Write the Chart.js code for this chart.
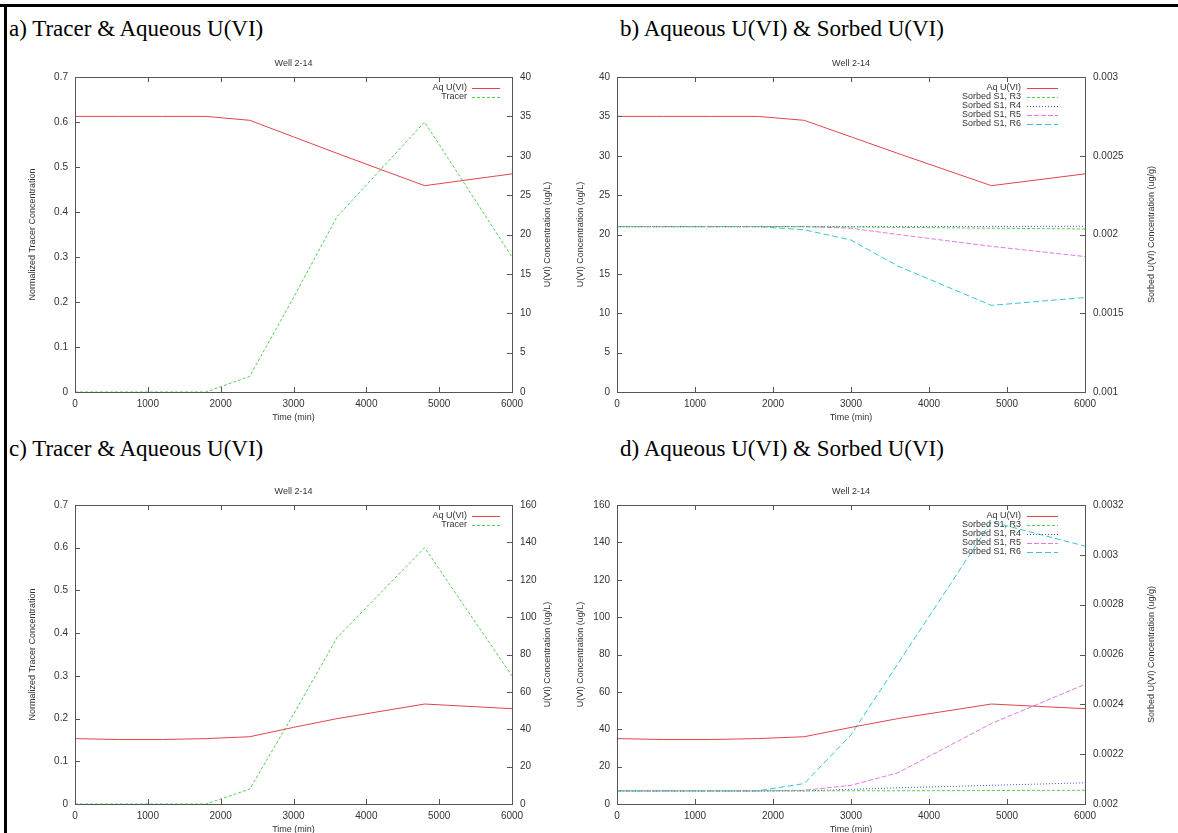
<!DOCTYPE html>
<html>
<head>
<meta charset="utf-8">
<script src="https://cdn.jsdelivr.net/npm/chart.js@4.4.0/dist/chart.umd.min.js"></script>
<style>
html, body { margin: 0; padding: 0; background: #fff; width: 1178px; height: 833px; overflow: hidden; }
body { position: relative; }
.rule { position: absolute; background: #000; }
.ptitle { position: absolute; font-family: "Liberation Serif", "Times New Roman", serif; font-size: 23px; line-height: 1; color: #000; white-space: nowrap; }
canvas { position: absolute; }
</style>
</head>
<body>
<div class="rule" style="left:0;top:4px;width:1178px;height:3px"></div>
<div class="rule" style="left:4px;top:4px;width:3px;height:829px"></div>

<div class="ptitle" style="left:9px;top:17px">a) Tracer &amp; Aqueous U(VI)</div>
<div class="ptitle" style="left:620px;top:17px">b) Aqueous U(VI) &amp; Sorbed U(VI)</div>
<div class="ptitle" style="left:9px;top:437px">c) Tracer &amp; Aqueous U(VI)</div>
<div class="ptitle" style="left:620px;top:437px">d) Aqueous U(VI) &amp; Sorbed U(VI)</div>

<canvas id="chartA" width="590" height="395" style="left:0;top:40px"></canvas>
<canvas id="chartB" width="618" height="395" style="left:560px;top:40px"></canvas>
<canvas id="chartC" width="590" height="395" style="left:0;top:468px"></canvas>
<canvas id="chartD" width="618" height="395" style="left:560px;top:468px"></canvas>

<script>
// sample times (min)
const times = [0, 600, 1200, 1800, 2400, 3000, 3600, 4800, 6000];

// tracer (same in a and c)
const tracer = [0, 0, 0, 0, 0.035, 0.21, 0.39, 0.6, 0.3];

// top row: aqueous U(VI) ug/L and sorbed U(VI) ug/g
const aqTop = [35, 35, 35, 35, 34.5, 32.4, 30.3, 26.2, 27.7];
const sorbR3Top = [0.00205, 0.00205, 0.00205, 0.00205, 0.00205, 0.002048, 0.002045, 0.00204, 0.002035];
const sorbR4Top = [0.00205, 0.00205, 0.00205, 0.00205, 0.00205, 0.00205, 0.00205, 0.002051, 0.002052];
const sorbR5Top = [0.00205, 0.00205, 0.00205, 0.00205, 0.00205, 0.00204, 0.002, 0.001925, 0.00186];
const sorbR6Top = [0.00205, 0.00205, 0.00205, 0.00205, 0.00203, 0.001965, 0.0018, 0.00155, 0.0016];

// bottom row
const aqBottom = [35, 34.5, 34.5, 35, 36, 41, 45.7, 53.5, 51];
const sorbR3Bottom = [0.0020525, 0.0020525, 0.0020525, 0.0020525, 0.0020525, 0.002053, 0.002053, 0.002054, 0.002055];
const sorbR4Bottom = [0.0020525, 0.0020525, 0.0020525, 0.0020525, 0.0020525, 0.002059, 0.002065, 0.002075, 0.002085];
const sorbR5Bottom = [0.0020525, 0.0020525, 0.0020525, 0.0020525, 0.002055, 0.002075, 0.002125, 0.002323, 0.00248];
const sorbR6Bottom = [0.0020525, 0.0020525, 0.0020525, 0.0020525, 0.002082, 0.0022775, 0.0025625, 0.0031325, 0.003035];

// tick labels
const timeTicks = [0, 1000, 2000, 3000, 4000, 5000, 6000];
const tracerTicks = [0, 0.1, 0.2, 0.3, 0.4, 0.5, 0.6, 0.7];
const aqTicksTop = [0, 5, 10, 15, 20, 25, 30, 35, 40];
const sorbTicksTop = [0.001, 0.0015, 0.002, 0.0025, 0.003];
const aqTicksBottom = [0, 20, 40, 60, 80, 100, 120, 140, 160];
const sorbTicksBottom = [0.002, 0.0022, 0.0024, 0.0026, 0.0028, 0.003, 0.0032];

const RED = '#e2454d';
const GREEN = '#52d052';
const BLUE = '#4c4ccc';
const MAGENTA = '#e07ce0';
const CYAN = '#36c6d6';

const FONT = '"Liberation Sans", Arial, sans-serif';
const TXT = '#333';

const framePlugin = {
    id: 'frame',
    afterDatasetsDraw(chart, args, opts) {
        const { ctx, chartArea: a, scales } = chart;
        ctx.save();
        ctx.strokeStyle = '#555';
        ctx.lineWidth = 1;
        ctx.strokeRect(Math.round(a.left) + 0.5, Math.round(a.top) + 0.5, Math.round(a.width), Math.round(a.height));
        ctx.beginPath();
        scales.x.ticks.forEach(t => {
            const px = Math.round(scales.x.getPixelForValue(t.value)) + 0.5;
            ctx.moveTo(px, a.bottom); ctx.lineTo(px, a.bottom - 5);
            ctx.moveTo(px, a.top); ctx.lineTo(px, a.top + 5);
        });
        scales.yL.ticks.forEach(t => {
            const py = Math.round(scales.yL.getPixelForValue(t.value)) + 0.5;
            ctx.moveTo(a.left, py); ctx.lineTo(a.left + 5, py);
        });
        scales.yR.ticks.forEach(t => {
            const py = Math.round(scales.yR.getPixelForValue(t.value)) + 0.5;
            ctx.moveTo(a.right, py); ctx.lineTo(a.right - 5, py);
        });
        ctx.stroke();

        // chart title
        ctx.fillStyle = TXT;
        ctx.font = '9px ' + FONT;
        ctx.textAlign = 'center';
        ctx.textBaseline = 'middle';
        ctx.fillText('Well 2-14', (a.left + a.right) / 2, a.top - 13);

        // right axis title, reading upward like the left one
        ctx.save();
        ctx.translate(a.right + opts.rightTitleOffset, (a.top + a.bottom) / 2);
        ctx.rotate(-Math.PI / 2);
        ctx.fillText(opts.rightTitle, 0, 0);
        ctx.restore();

        // gnuplot style key
        chart.data.datasets.forEach((ds, i) => {
            const y = a.top + 11 + i * 9;
            ctx.fillStyle = TXT;
            ctx.textAlign = 'right';
            ctx.fillText(ds.label, a.right - opts.keyText, y);
            ctx.strokeStyle = ds.borderColor;
            ctx.setLineDash(ds.borderDash || []);
            ctx.beginPath();
            ctx.moveTo(a.right - opts.keyStart, Math.round(y) + 0.5);
            ctx.lineTo(a.right - opts.keyEnd, Math.round(y) + 0.5);
            ctx.stroke();
            ctx.setLineDash([]);
        });
        ctx.restore();
    }
};

function tickAxis(ticks, min, max, position, width, pad, title, titlePad) {
    return {
        type: 'linear',
        position: position,
        min: min,
        max: max,
        afterFit: s => { s.width = width; },
        afterBuildTicks: s => { s.ticks = ticks.map(v => ({ value: v })); },
        grid: { display: false, drawTicks: false },
        border: { display: false },
        ticks: {
            padding: pad,
            autoSkip: false,
            color: TXT,
            font: { family: FONT, size: 10 },
            callback: v => String(+Number(v).toPrecision(6))
        },
        title: {
            display: !!title,
            text: title || '',
            color: TXT,
            font: { family: FONT, size: 9 },
            padding: { top: titlePad, bottom: 0 }
        }
    };
}

function buildChart(id, opt) {
    const datasets = opt.series.map(s => ({
        label: s.label,
        data: times.map((t, i) => ({ x: t, y: s.values[i] })),
        yAxisID: s.axis,
        borderColor: s.color,
        borderDash: s.dash,
        borderWidth: 1,
        pointRadius: 0,
        fill: false,
        tension: 0
    }));
    return new Chart(document.getElementById(id), {
        type: 'line',
        data: { datasets },
        options: {
            responsive: false,
            animation: false,
            devicePixelRatio: 1,
            layout: { padding: { top: 37, left: 0, right: 0, bottom: 0 } },
            plugins: {
                legend: { display: false },
                tooltip: { enabled: false },
                title: { display: false },
                frame: opt.frame
            },
            scales: {
                x: {
                    type: 'linear',
                    min: 0,
                    max: 6000,
                    afterFit: s => { s.height = opt.xh; },
                    afterBuildTicks: s => { s.ticks = timeTicks.map(v => ({ value: v })); },
                    grid: { display: false, drawTicks: false },
                    border: { display: false },
                    ticks: { padding: 6, autoSkip: false, maxRotation: 0, color: TXT, font: { family: FONT, size: 10 }, callback: v => String(v) },
                    title: { display: true, text: 'Time (min)', color: TXT, font: { family: FONT, size: 9 }, padding: { top: 0, bottom: opt.xtPad } }
                },
                yL: opt.yL,
                yR: opt.yR
            }
        },
        plugins: [framePlugin]
    });
}

// a) tracer & aqueous, top row
buildChart('chartA', {
    xh: 43, xtPad: 12,
    yL: tickAxis(tracerTicks, 0, 0.7, 'left', 75, 7, 'Normalized Tracer Concentration', 27.6),
    yR: tickAxis(aqTicksTop, 0, 40, 'right', 78, 8, '', 0),
    frame: { rightTitle: 'U(VI) Concentration (ug/L)', rightTitleOffset: 36, keyText: 45, keyStart: 40, keyEnd: 12 },
    series: [
        { label: 'Aq U(VI)', values: aqTop, axis: 'yR', color: RED, dash: [] },
        { label: 'Tracer', values: tracer, axis: 'yL', color: GREEN, dash: [3, 2] }
    ]
});

// b) aqueous & sorbed, top row
buildChart('chartB', {
    xh: 43, xtPad: 12,
    yL: tickAxis(aqTicksTop, 0, 40, 'left', 57, 7, 'U(VI) Concentration (ug/L)', 15.6),
    yR: tickAxis(sorbTicksTop, 0.001, 0.003, 'right', 93, 8, '', 0),
    frame: { rightTitle: 'Sorbed U(VI) Concentration (ug/g)', rightTitleOffset: 67, keyText: 64, keyStart: 58, keyEnd: 27 },
    series: [
        { label: 'Aq U(VI)', values: aqTop, axis: 'yL', color: RED, dash: [] },
        { label: 'Sorbed S1, R3', values: sorbR3Top, axis: 'yR', color: GREEN, dash: [3, 2] },
        { label: 'Sorbed S1, R4', values: sorbR4Top, axis: 'yR', color: BLUE, dash: [1, 2] },
        { label: 'Sorbed S1, R5', values: sorbR5Top, axis: 'yR', color: MAGENTA, dash: [5, 2] },
        { label: 'Sorbed S1, R6', values: sorbR6Top, axis: 'yR', color: CYAN, dash: [6, 3] }
    ]
});

// c) tracer & aqueous, bottom row
buildChart('chartC', {
    xh: 59, xtPad: 28,
    yL: tickAxis(tracerTicks, 0, 0.7, 'left', 75, 7, 'Normalized Tracer Concentration', 27.6),
    yR: tickAxis(aqTicksBottom, 0, 160, 'right', 78, 8, '', 0),
    frame: { rightTitle: 'U(VI) Concentration (ug/L)', rightTitleOffset: 36, keyText: 45, keyStart: 40, keyEnd: 12 },
    series: [
        { label: 'Aq U(VI)', values: aqBottom, axis: 'yR', color: RED, dash: [] },
        { label: 'Tracer', values: tracer, axis: 'yL', color: GREEN, dash: [3, 2] }
    ]
});

// d) aqueous & sorbed, bottom row
buildChart('chartD', {
    xh: 59, xtPad: 28,
    yL: tickAxis(aqTicksBottom, 0, 160, 'left', 57, 7, 'U(VI) Concentration (ug/L)', 15.6),
    yR: tickAxis(sorbTicksBottom, 0.002, 0.0032, 'right', 93, 8, '', 0),
    frame: { rightTitle: 'Sorbed U(VI) Concentration (ug/g)', rightTitleOffset: 67, keyText: 64, keyStart: 58, keyEnd: 27 },
    series: [
        { label: 'Aq U(VI)', values: aqBottom, axis: 'yL', color: RED, dash: [] },
        { label: 'Sorbed S1, R3', values: sorbR3Bottom, axis: 'yR', color: GREEN, dash: [3, 2] },
        { label: 'Sorbed S1, R4', values: sorbR4Bottom, axis: 'yR', color: BLUE, dash: [1, 2] },
        { label: 'Sorbed S1, R5', values: sorbR5Bottom, axis: 'yR', color: MAGENTA, dash: [5, 2] },
        { label: 'Sorbed S1, R6', values: sorbR6Bottom, axis: 'yR', color: CYAN, dash: [6, 3] }
    ]
});
</script>
</body>
</html>
